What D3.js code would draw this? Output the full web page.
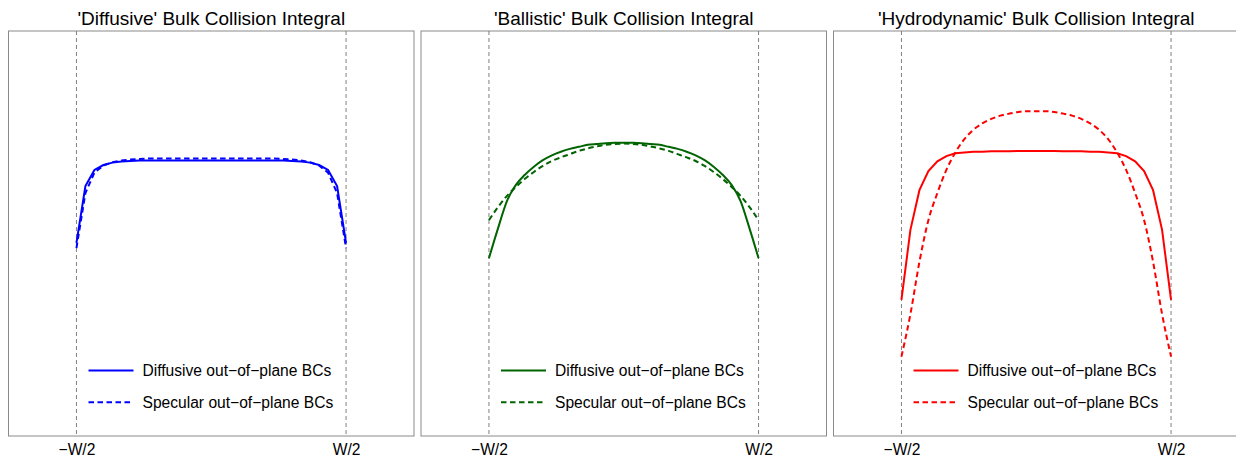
<!DOCTYPE html>
<html>
<head>
<meta charset="utf-8">
<script src="https://cdn.jsdelivr.net/npm/d3@7"></script>
<style>
  body { margin: 0; background: #fff; }
  text { font-family: "Liberation Sans", Arial, sans-serif; fill: #000; }
</style>
</head>
<body>
<script>
// position across the channel, in units of W
const xs = [-0.5, -0.4667, -0.4333, -0.4, -0.3667, -0.3333, -0.3, -0.2667, -0.2333, -0.2, -0.1667, -0.1333, -0.1, -0.0667, -0.0333, 0,
            0.0333, 0.0667, 0.1, 0.1333, 0.1667, 0.2, 0.2333, 0.2667, 0.3, 0.3333, 0.3667, 0.4, 0.4333, 0.4667, 0.5];

// 'Diffusive' bulk collision integral
const diffusiveSolid = [0.477, 0.617, 0.657, 0.669, 0.675, 0.678, 0.679, 0.680, 0.680, 0.680, 0.680, 0.680, 0.680, 0.680, 0.680, 0.680,
                        0.680, 0.680, 0.680, 0.680, 0.680, 0.680, 0.680, 0.680, 0.679, 0.678, 0.675, 0.669, 0.657, 0.617, 0.477];
const diffusiveDash  = [0.464, 0.600, 0.650, 0.668, 0.676, 0.680, 0.683, 0.684, 0.685, 0.685, 0.685, 0.685, 0.685, 0.685, 0.685, 0.685,
                        0.685, 0.685, 0.685, 0.685, 0.685, 0.685, 0.685, 0.684, 0.683, 0.680, 0.676, 0.668, 0.650, 0.600, 0.464];

// 'Ballistic'
const ballisticSolid = [0.439, 0.512, 0.580, 0.620, 0.645, 0.665, 0.681, 0.693, 0.702, 0.709, 0.714, 0.719, 0.721, 0.723, 0.724, 0.724,
                        0.724, 0.723, 0.721, 0.719, 0.714, 0.709, 0.702, 0.693, 0.681, 0.665, 0.645, 0.620, 0.580, 0.512, 0.439];
const ballisticDash  = [0.533, 0.565, 0.593, 0.615, 0.635, 0.652, 0.667, 0.679, 0.688, 0.696, 0.704, 0.710, 0.715, 0.719, 0.721, 0.722,
                        0.721, 0.719, 0.715, 0.710, 0.704, 0.696, 0.688, 0.679, 0.667, 0.652, 0.635, 0.615, 0.593, 0.565, 0.533];

// 'Hydrodynamic'
const hydroSolid = [0.336, 0.509, 0.607, 0.654, 0.678, 0.691, 0.698, 0.700, 0.702, 0.702, 0.703, 0.703, 0.703, 0.704, 0.704, 0.704,
                    0.704, 0.704, 0.703, 0.703, 0.703, 0.702, 0.702, 0.700, 0.698, 0.691, 0.678, 0.654, 0.607, 0.509, 0.336];
const hydroDash  = [0.196, 0.301, 0.430, 0.533, 0.600, 0.657, 0.700, 0.733, 0.756, 0.772, 0.783, 0.791, 0.796, 0.800, 0.802, 0.802,
                    0.802, 0.800, 0.796, 0.791, 0.783, 0.772, 0.756, 0.733, 0.700, 0.657, 0.600, 0.533, 0.430, 0.301, 0.196];

const titles = ["'Diffusive' Bulk Collision Integral", "'Ballistic' Bulk Collision Integral", "'Hydrodynamic' Bulk Collision Integral"];
const colors = ['#0000ff', '#006400', '#ff0000'];
const tickVals = [-0.5, 0.5];
const tickLabels = ['\u2212W/2', 'W/2'];
const legendLabels = ['Diffusive out\u2212of\u2212plane BCs', 'Specular out\u2212of\u2212plane BCs'];

// smooth: which curves look smooth (not polyline) in the original
const panels = [
  { title: titles[0], color: colors[0], solid: diffusiveSolid, dash: diffusiveDash, smoothSolid: false, smoothDash: false },
  { title: titles[1], color: colors[1], solid: ballisticSolid, dash: ballisticDash, smoothSolid: true, smoothDash: true },
  { title: titles[2], color: colors[2], solid: hydroSolid, dash: hydroDash, smoothSolid: false, smoothDash: true }
];

const svgW = 1236, svgH = 464;
const svg = d3.select('body').append('svg').attr('width', svgW).attr('height', svgH);

const panelW = 405.5, step = 412.5, plotTop = 31, plotBottom = 436;
const yScale = d3.scaleLinear().domain([0, 1]).range([plotBottom, plotTop]);

panels.forEach((p, k) => {
  const left = 8.5 + step * k;
  const xScale = d3.scaleLinear().domain([-0.752, 0.752]).range([left, left + panelW]);
  const g = svg.append('g');

  // frame
  g.append('rect').attr('x', left).attr('y', plotTop).attr('width', panelW).attr('height', plotBottom - plotTop)
    .attr('fill', 'none').attr('stroke', '#8a8a8a').attr('stroke-width', 1);

  // x axis, only the two wall labels
  const xAxis = d3.axisBottom(xScale).tickValues(tickVals).tickFormat((d, i) => tickLabels[i]).tickSize(0).tickPadding(0);
  const xAxisG = g.append('g').attr('transform', `translate(0,${plotBottom})`).call(xAxis);
  xAxisG.select('.domain').remove();
  xAxisG.selectAll('text').attr('font-size', 15.6).attr('y', 19).attr('dy', 0)
    .style('font-family', '"Liberation Sans", Arial, sans-serif').attr('fill', '#000');

  // dashed lines at the walls
  g.selectAll('line.wall').data(tickVals).enter().append('line').attr('class', 'wall')
    .attr('x1', d => xScale(d)).attr('x2', d => xScale(d))
    .attr('y1', plotTop).attr('y2', plotBottom)
    .attr('stroke', '#808080').attr('stroke-width', 1).attr('stroke-dasharray', '4,3');

  // curves
  const lineFor = smooth => d3.line().x((d, i) => xScale(xs[i])).y(d => yScale(d))
    .curve(smooth ? d3.curveMonotoneX : d3.curveLinear);
  g.append('path').datum(p.solid).attr('d', lineFor(p.smoothSolid))
    .attr('fill', 'none').attr('stroke', p.color).attr('stroke-width', 2);
  g.append('path').datum(p.dash).attr('d', lineFor(p.smoothDash))
    .attr('fill', 'none').attr('stroke', p.color).attr('stroke-width', 2).attr('stroke-dasharray', '5.5,3.5');

  // title
  g.append('text').text(p.title).attr('x', left + panelW / 2).attr('y', 25)
    .attr('text-anchor', 'middle').attr('font-size', 19);

  // legend
  const lg = g.append('g').attr('transform', `translate(${left + 80},370.5)`);
  legendLabels.forEach((lab, j) => {
    lg.append('line').attr('x1', 0).attr('x2', 45).attr('y1', j * 31.8).attr('y2', j * 31.8)
      .attr('stroke', p.color).attr('stroke-width', 2)
      .attr('stroke-dasharray', j === 1 ? '5.5,3.5' : null);
    lg.append('text').text(lab).attr('x', 54).attr('y', j * 31.8 + 5.5).attr('font-size', 15.6);
  });
});
</script>
</body>
</html>
